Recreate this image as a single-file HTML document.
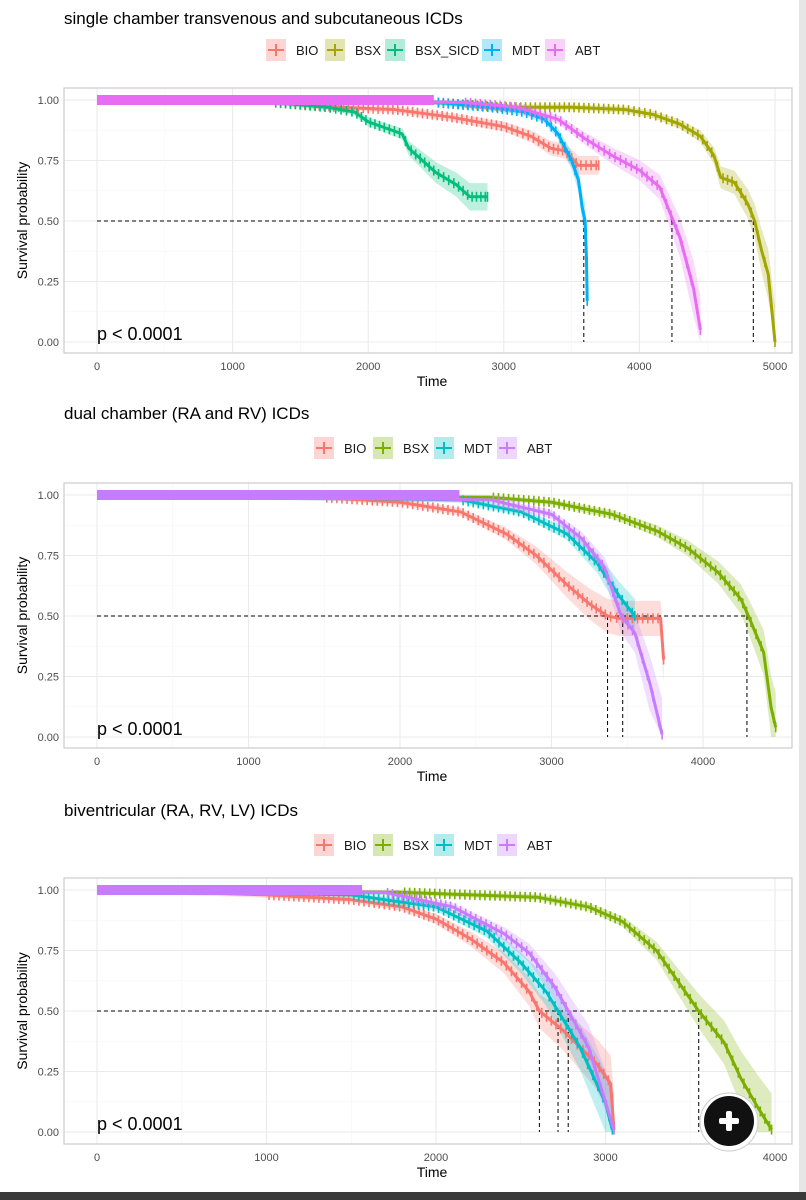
<!DOCTYPE html>
<html><head><meta charset="utf-8"><style>
html,body{margin:0;padding:0;background:#fff;}
svg{display:block;font-family:"Liberation Sans",sans-serif;}
</style></head><body>
<svg id="chart" width="806" height="1200" viewBox="0 0 806 1200">
<rect x="0" y="0" width="806" height="1200" fill="#fff"/>
<rect x="799" y="0" width="7" height="1192" fill="#e6e6e6"/>
<rect x="0" y="1192" width="806" height="8" fill="#3a3a3a"/>
</svg>
<script>
// ---------- data ----------
const panelTitles = ["single chamber transvenous and subcutaneous ICDs","dual chamber (RA and RV) ICDs","biventricular (RA, RV, LV) ICDs"];
const p1Groups = ["BIO","BSX","BSX_SICD","MDT","ABT"];
const p1Colors = ["#F8766D","#A3A500","#00BF7D","#00B0F6","#E76BF3"];
const p1XTicks = [0,1000,2000,3000,4000,5000];
const p1Curves = [
 [[0,1],[1300,0.99],[1800,0.97],[2200,0.96],[2600,0.93],[3000,0.89],[3200,0.85],[3350,0.80],[3450,0.79],[3550,0.73],[3700,0.73]],
 [[0,1],[2500,0.99],[3000,0.97],[3500,0.97],[3900,0.96],[4100,0.94],[4300,0.90],[4450,0.85],[4550,0.77],[4600,0.68],[4700,0.66],[4800,0.57],[4850,0.50],[4900,0.38],[4950,0.28],[5000,0]],
 [[0,1],[1300,0.99],[1700,0.97],[1900,0.95],[2000,0.91],[2100,0.89],[2250,0.86],[2300,0.80],[2400,0.75],[2500,0.70],[2650,0.65],[2750,0.60],[2880,0.60]],
 [[0,1],[2500,0.99],[2900,0.97],[3150,0.95],[3300,0.92],[3400,0.86],[3500,0.75],[3550,0.67],[3580,0.55],[3600,0.50],[3610,0.34],[3615,0.17]],
 [[0,1],[2700,0.99],[3100,0.97],[3400,0.92],[3600,0.84],[3800,0.77],[4000,0.71],[4150,0.64],[4250,0.50],[4300,0.43],[4400,0.22],[4450,0.05]]
];
const p1Medians = [3590,4240,4840];

const p2Groups = ["BIO","BSX","MDT","ABT"];
const p2Colors = ["#F8766D","#7CAE00","#00BFC4","#C77CFF"];
const p2XTicks = [0,1000,2000,3000,4000];
const p2Curves = [
 [[0,1],[1500,0.99],[2000,0.97],[2400,0.93],[2700,0.84],[2900,0.75],[3100,0.63],[3250,0.55],[3370,0.50],[3450,0.49],[3720,0.49],[3740,0.32]],
 [[0,1],[2600,0.99],[3000,0.97],[3400,0.92],[3700,0.85],[3900,0.78],[4100,0.68],[4250,0.57],[4300,0.50],[4400,0.35],[4450,0.12],[4480,0.04]],
 [[0,1],[2400,0.98],[2800,0.93],[3100,0.84],[3300,0.72],[3450,0.58],[3550,0.50]],
 [[0,1],[2600,0.98],[3000,0.92],[3200,0.82],[3350,0.70],[3460,0.50],[3550,0.43],[3650,0.22],[3730,0.01]]
];
const p2Medians = [3370,3470,4290];

const p3Groups = ["BIO","BSX","MDT","ABT"];
const p3Colors = ["#F8766D","#7CAE00","#00BFC4","#C77CFF"];
const p3XTicks = [0,1000,2000,3000,4000];
const p3Curves = [
 [[0,1],[1000,0.98],[1500,0.96],[1800,0.93],[2000,0.88],[2200,0.80],[2400,0.70],[2550,0.58],[2610,0.50],[2750,0.42],[2850,0.35],[2950,0.28],[3030,0.20],[3050,0.01]],
 [[0,1],[1800,0.99],[2600,0.97],[2900,0.93],[3100,0.87],[3300,0.75],[3450,0.60],[3550,0.50],[3700,0.37],[3800,0.22],[3900,0.10],[3980,0.01]],
 [[0,1],[1500,0.98],[2000,0.93],[2300,0.83],[2500,0.70],[2650,0.58],[2720,0.50],[2850,0.35],[3000,0.12],[3040,0.01]],
 [[0,1],[1700,0.99],[2100,0.93],[2400,0.82],[2550,0.74],[2700,0.60],[2780,0.50],[2900,0.35],[3050,0.01]]
];
const p3Medians = [2610,2720,2780,3550];
const yTicks = [0,0.25,0.5,0.75,1];
const yTickLabels = ["0.00","0.25","0.50","0.75","1.00"];
const pValueText = "p < 0.0001";

// ---------- layout ----------
const panels = [
 {title:panelTitles[0],groups:p1Groups,colors:p1Colors,ticks:p1XTicks,curves:p1Curves,medians:p1Medians,
  top:0,box:[64,88,792,353],y1:100,y0:342,x0:97,xmax:5000,xr:775,
  legKeys:[266,325,385,482,545],legY:50},
 {title:panelTitles[1],groups:p2Groups,colors:p2Colors,ticks:p2XTicks,curves:p2Curves,medians:p2Medians,
  top:395,box:[64,483,792,748],y1:495,y0:737,x0:97,xmax:4000,xr:703,
  legKeys:[314,373,434,497],legY:448},
 {title:panelTitles[2],groups:p3Groups,colors:p3Colors,ticks:p3XTicks,curves:p3Curves,medians:p3Medians,
  top:792,box:[64,878,792,1144],y1:890,y0:1132,x0:97,xmax:4000,xr:775,
  legKeys:[314,373,434,497],legY:845}
];
const NS="http://www.w3.org/2000/svg";
const svg=document.getElementById('chart');
function mk(tag,attrs,parent){const e=document.createElementNS(NS,tag);for(const k in attrs)e.setAttribute(k,attrs[k]);(parent||svg).appendChild(e);return e;}

panels.forEach((P,pi)=>{
 const g=mk('g',{});
 
 
 const sx=t=>P.x0+(t/P.xmax)*(P.xr-P.x0);
 const sy=v=>P.y0-v*(P.y0-P.y1);
 const t=mk('text',{x:64,y:P.top+24,'font-size':17,fill:'#000'},g);t.textContent=P.title;
 
 
 P.groups.forEach((name,i)=>{
  const kx=P.legKeys[i],ky=P.legY;
  const lg=mk('g',{},g);
  
  
  mk('rect',{x:kx,y:ky-11,width:20,height:22,fill:P.colors[i],'fill-opacity':0.3},lg);
  mk('line',{x1:kx+2,y1:ky,x2:kx+18,y2:ky,stroke:P.colors[i],'stroke-width':2},lg);
  mk('line',{x1:kx+10,y1:ky-6,x2:kx+10,y2:ky+6,stroke:P.colors[i],'stroke-width':2},lg);
  const lt=mk('text',{x:kx+30,y:ky+5,'font-size':13,fill:'#1a1a1a'},lg);lt.textContent=name;
 });
 const [bx0,by0,bx1,by1]=P.box;
 mk('rect',{x:bx0,y:by0,width:bx1-bx0,height:by1-by0,fill:'#fff'},g);
 for(let i=0;i<yTicks.length;i++){
  mk('line',{x1:bx0,x2:bx1,y1:sy(yTicks[i]),y2:sy(yTicks[i]),stroke:'#ebebeb','stroke-width':1.1},g);
  if(i<yTicks.length-1){const m=(yTicks[i]+yTicks[i+1])/2;mk('line',{x1:bx0,x2:bx1,y1:sy(m),y2:sy(m),stroke:'#f4f4f4','stroke-width':0.6},g);}
 }
 P.ticks.forEach((v,i)=>{
  mk('line',{x1:sx(v),x2:sx(v),y1:by0,y2:by1,stroke:'#ebebeb','stroke-width':1.1},g);
  if(i<P.ticks.length-1){const m=(v+P.ticks[i+1])/2;mk('line',{x1:sx(m),x2:sx(m),y1:by0,y2:by1,stroke:'#f4f4f4','stroke-width':0.6},g);}
  const tl=mk('text',{x:sx(v),y:by1+17,'font-size':11,fill:'#4d4d4d','text-anchor':'middle'},g);tl.textContent=v;
  
  
 });
 yTicks.forEach((v,i)=>{
  const tl=mk('text',{x:bx0-5,y:sy(v)+4,'font-size':11,fill:'#4d4d4d','text-anchor':'end'},g);tl.textContent=yTickLabels[i];
  
  
 });
 P.curves.forEach((c,ci)=>{
  let up=[],lo=[];
  c.forEach(([tt,v],k)=>{const w=0.01+0.14*Math.pow(1-v,1.2)*(k>0?1:0);
   up.push([sx(tt),sy(Math.min(1,v+w))]);lo.push([sx(tt),sy(Math.max(0,v-w))]);});
  const pts=up.map(p=>p.join(',')).concat(lo.reverse().map(p=>p.join(','))).join(' ');
  const b=mk('polygon',{points:pts,fill:P.colors[ci],'fill-opacity':0.25},g);
  
  
 });
 P.medians.forEach(m=>{
  mk('line',{x1:sx(m),x2:sx(m),y1:sy(0.5),y2:sy(0),stroke:'#000','stroke-width':1,'stroke-dasharray':'4,3'},g);
 });
 const mx=Math.max(...P.medians);
 const hl=mk('line',{x1:sx(0),x2:sx(mx),y1:sy(0.5),y2:sy(0.5),stroke:'#000','stroke-width':1,'stroke-dasharray':'4,3'},g);
 
 
 P.curves.forEach((c,ci)=>{
  const pts=c.map(([tt,v])=>sx(tt)+','+sy(v)).join(' ');
  const l=mk('polyline',{points:pts,fill:'none',stroke:P.colors[ci],'stroke-width':3,'stroke-linejoin':'round'},g);
  
  
  for(let k=1;k<c.length;k++){
   const xa=sx(c[k-1][0]),xb=sx(c[k][0]),ya=sy(c[k-1][1]),yb=sy(c[k][1]);
   if(c[k-1][1]>=0.995)continue;
   const n=Math.max(1,Math.round(Math.abs(xb-xa)/5));
   for(let j=0;j<n;j++){const f=(j+0.5)/n;const x=xa+(xb-xa)*f,y=ya+(yb-ya)*f;
    mk('line',{x1:x,x2:x,y1:y-5,y2:y+5,stroke:P.colors[ci],'stroke-width':1.6},g);}
  }
  const last=c[c.length-1];
  mk('line',{x1:sx(last[0]),x2:sx(last[0]),y1:sy(last[1])-5,y2:sy(last[1])+5,stroke:P.colors[ci],'stroke-width':1.6},g);
 });
 // dense band at 1.0 (many censor marks of the top-drawn group)
 const lastC=P.curves.length-1;
 const flatEnd=P.curves[lastC][1][0]*0.92;
 mk('rect',{x:sx(0),y:sy(1)-5,width:sx(flatEnd)-sx(0),height:10,fill:P.colors[lastC]},g);
 mk('rect',{x:bx0,y:by0,width:bx1-bx0,height:by1-by0,fill:'none',stroke:'#cccccc','stroke-width':1.2},g);
 const pv=mk('text',{x:97,y:sy(0)-2,'font-size':18,fill:'#000'},g);pv.textContent=pValueText;
 
 
 const xt=mk('text',{x:432,y:by1+33,'font-size':14,fill:'#000','text-anchor':'middle'},g);xt.textContent='Time';
 
 
 const yc=(by0+by1)/2;
 const yt=mk('text',{x:27,y:yc,'font-size':14,fill:'#000','text-anchor':'middle',transform:'rotate(-90 27 '+yc+')'},g);yt.textContent='Survival probability';
 
 
});
const zb=mk('g',{});


mk('circle',{cx:729,cy:1122,r:29,fill:'#fff',stroke:'#ccc','stroke-width':1},zb);
mk('circle',{cx:729,cy:1121,r:25,fill:'#111'},zb);
mk('rect',{x:719,y:1118,width:20,height:6,fill:'#fff',rx:2},zb);
mk('rect',{x:726,y:1111,width:6,height:20,fill:'#fff',rx:2},zb);
</script>
</body></html>
